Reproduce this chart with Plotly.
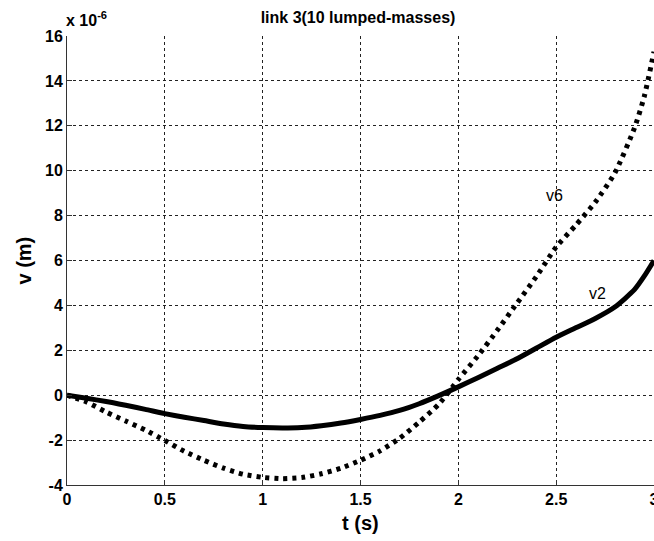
import plotly.graph_objects as go

t = [0.0, 0.1, 0.2, 0.3, 0.4, 0.5, 0.6, 0.7, 0.8, 0.9, 1.0, 1.1, 1.2, 1.3, 1.4, 1.5,
     1.6, 1.7, 1.8, 1.9, 2.0, 2.1, 2.2, 2.3, 2.4, 2.5, 2.6, 2.7, 2.8, 2.9, 2.95, 3.0]
v2 = [0.0, -0.14, -0.28, -0.45, -0.63, -0.82, -0.98, -1.13, -1.28, -1.39, -1.44, -1.46,
      -1.44, -1.36, -1.24, -1.08, -0.9, -0.68, -0.38, -0.02, 0.37, 0.78, 1.2, 1.62, 2.1,
      2.58, 3.0, 3.42, 3.93, 4.7, 5.3, 6.0]
v6 = [0.0, -0.3, -0.75, -1.15, -1.55, -2.02, -2.5, -2.9, -3.25, -3.52, -3.66, -3.72,
      -3.67, -3.5, -3.25, -2.9, -2.48, -1.92, -1.2, -0.4, 0.7, 1.75, 2.9, 4.1, 5.3, 6.6,
      7.57, 8.6, 9.9, 11.9, 13.3, 15.3]
x_ticks = [0, 0.5, 1, 1.5, 2, 2.5, 3]
x_tick_labels = ["0", "0.5", "1", "1.5", "2", "2.5", "3"]
y_ticks = [-4, -2, 0, 2, 4, 6, 8, 10, 12, 14, 16]
y_tick_labels = ["-4", "-2", "0", "2", "4", "6", "8", "10", "12", "14", "16"]

FONT = "Liberation Sans, Arial, sans-serif"

W, H = 654, 541
L, R, T, B = 67, 0, 36, 56

fig = go.Figure()
fig.add_trace(go.Scatter(x=t, y=v2, mode="lines", name="v2",
                         line=dict(color="black", width=5, shape="spline", smoothing=0.6)))
fig.add_trace(go.Scatter(x=t, y=v6, mode="lines", name="v6",
                         line=dict(color="black", width=5, dash="4px,5px", shape="spline", smoothing=0.6)))

axis_common = dict(
    showgrid=True, gridcolor="#222", gridwidth=1, griddash="3px,3px",
    zeroline=False, showline=True, linecolor="#333", linewidth=1,
    ticks="inside", ticklen=5, tickcolor="#333",
    tickfont=dict(family=FONT, size=16, color="black", weight="bold"),
    ticklabeloverflow="allow",
    automargin=False,
)
fig.update_xaxes(range=[0, 3], tickvals=x_ticks, ticktext=x_tick_labels, **axis_common)
fig.update_yaxes(range=[-4, 16], tickvals=y_ticks, ticktext=y_tick_labels, **axis_common)

fig.add_annotation(text="t (s)", xref="paper", yref="paper", x=0.5, y=0, yshift=-38,
                   xanchor="center", yanchor="middle", showarrow=False,
                   font=dict(family=FONT, size=20, color="black", weight="bold"))
fig.add_annotation(text="v (m)", xref="paper", yref="paper", x=0, y=0.5, xshift=-44,
                   xanchor="center", yanchor="middle", textangle=-90, showarrow=False,
                   font=dict(family=FONT, size=20, color="black", weight="bold"))
fig.add_annotation(text="v6", x=2.49, y=8.9, showarrow=False,
                   font=dict(family=FONT, size=16, color="black"))
fig.add_annotation(text="v2", x=2.71, y=4.55, showarrow=False,
                   font=dict(family=FONT, size=16, color="black"))
fig.add_annotation(text="x 10<sup>-6</sup>", xref="paper", yref="paper", x=0, y=1,
                   xanchor="left", yanchor="bottom", showarrow=False, xshift=-3, yshift=5,
                   font=dict(family=FONT, size=16, color="black", weight="bold"))

fig.update_layout(
    width=W, height=H,
    margin=dict(l=L, r=R, t=T, b=B, pad=0, autoexpand=False),
    paper_bgcolor="white", plot_bgcolor="white",
    showlegend=False,
    hovermode=False,
    title=dict(text="link 3(10 lumped-masses)", x=358 / W, xanchor="center",
               y=1 - 17 / H, yanchor="middle",
               font=dict(family=FONT, size=16, color="black", weight="bold")),
)

fig.write_html("out.html",
               config={"displayModeBar": False, "staticPlot": True},
               post_script="document.body.style.margin='0px';document.body.style.overflow='hidden';")
